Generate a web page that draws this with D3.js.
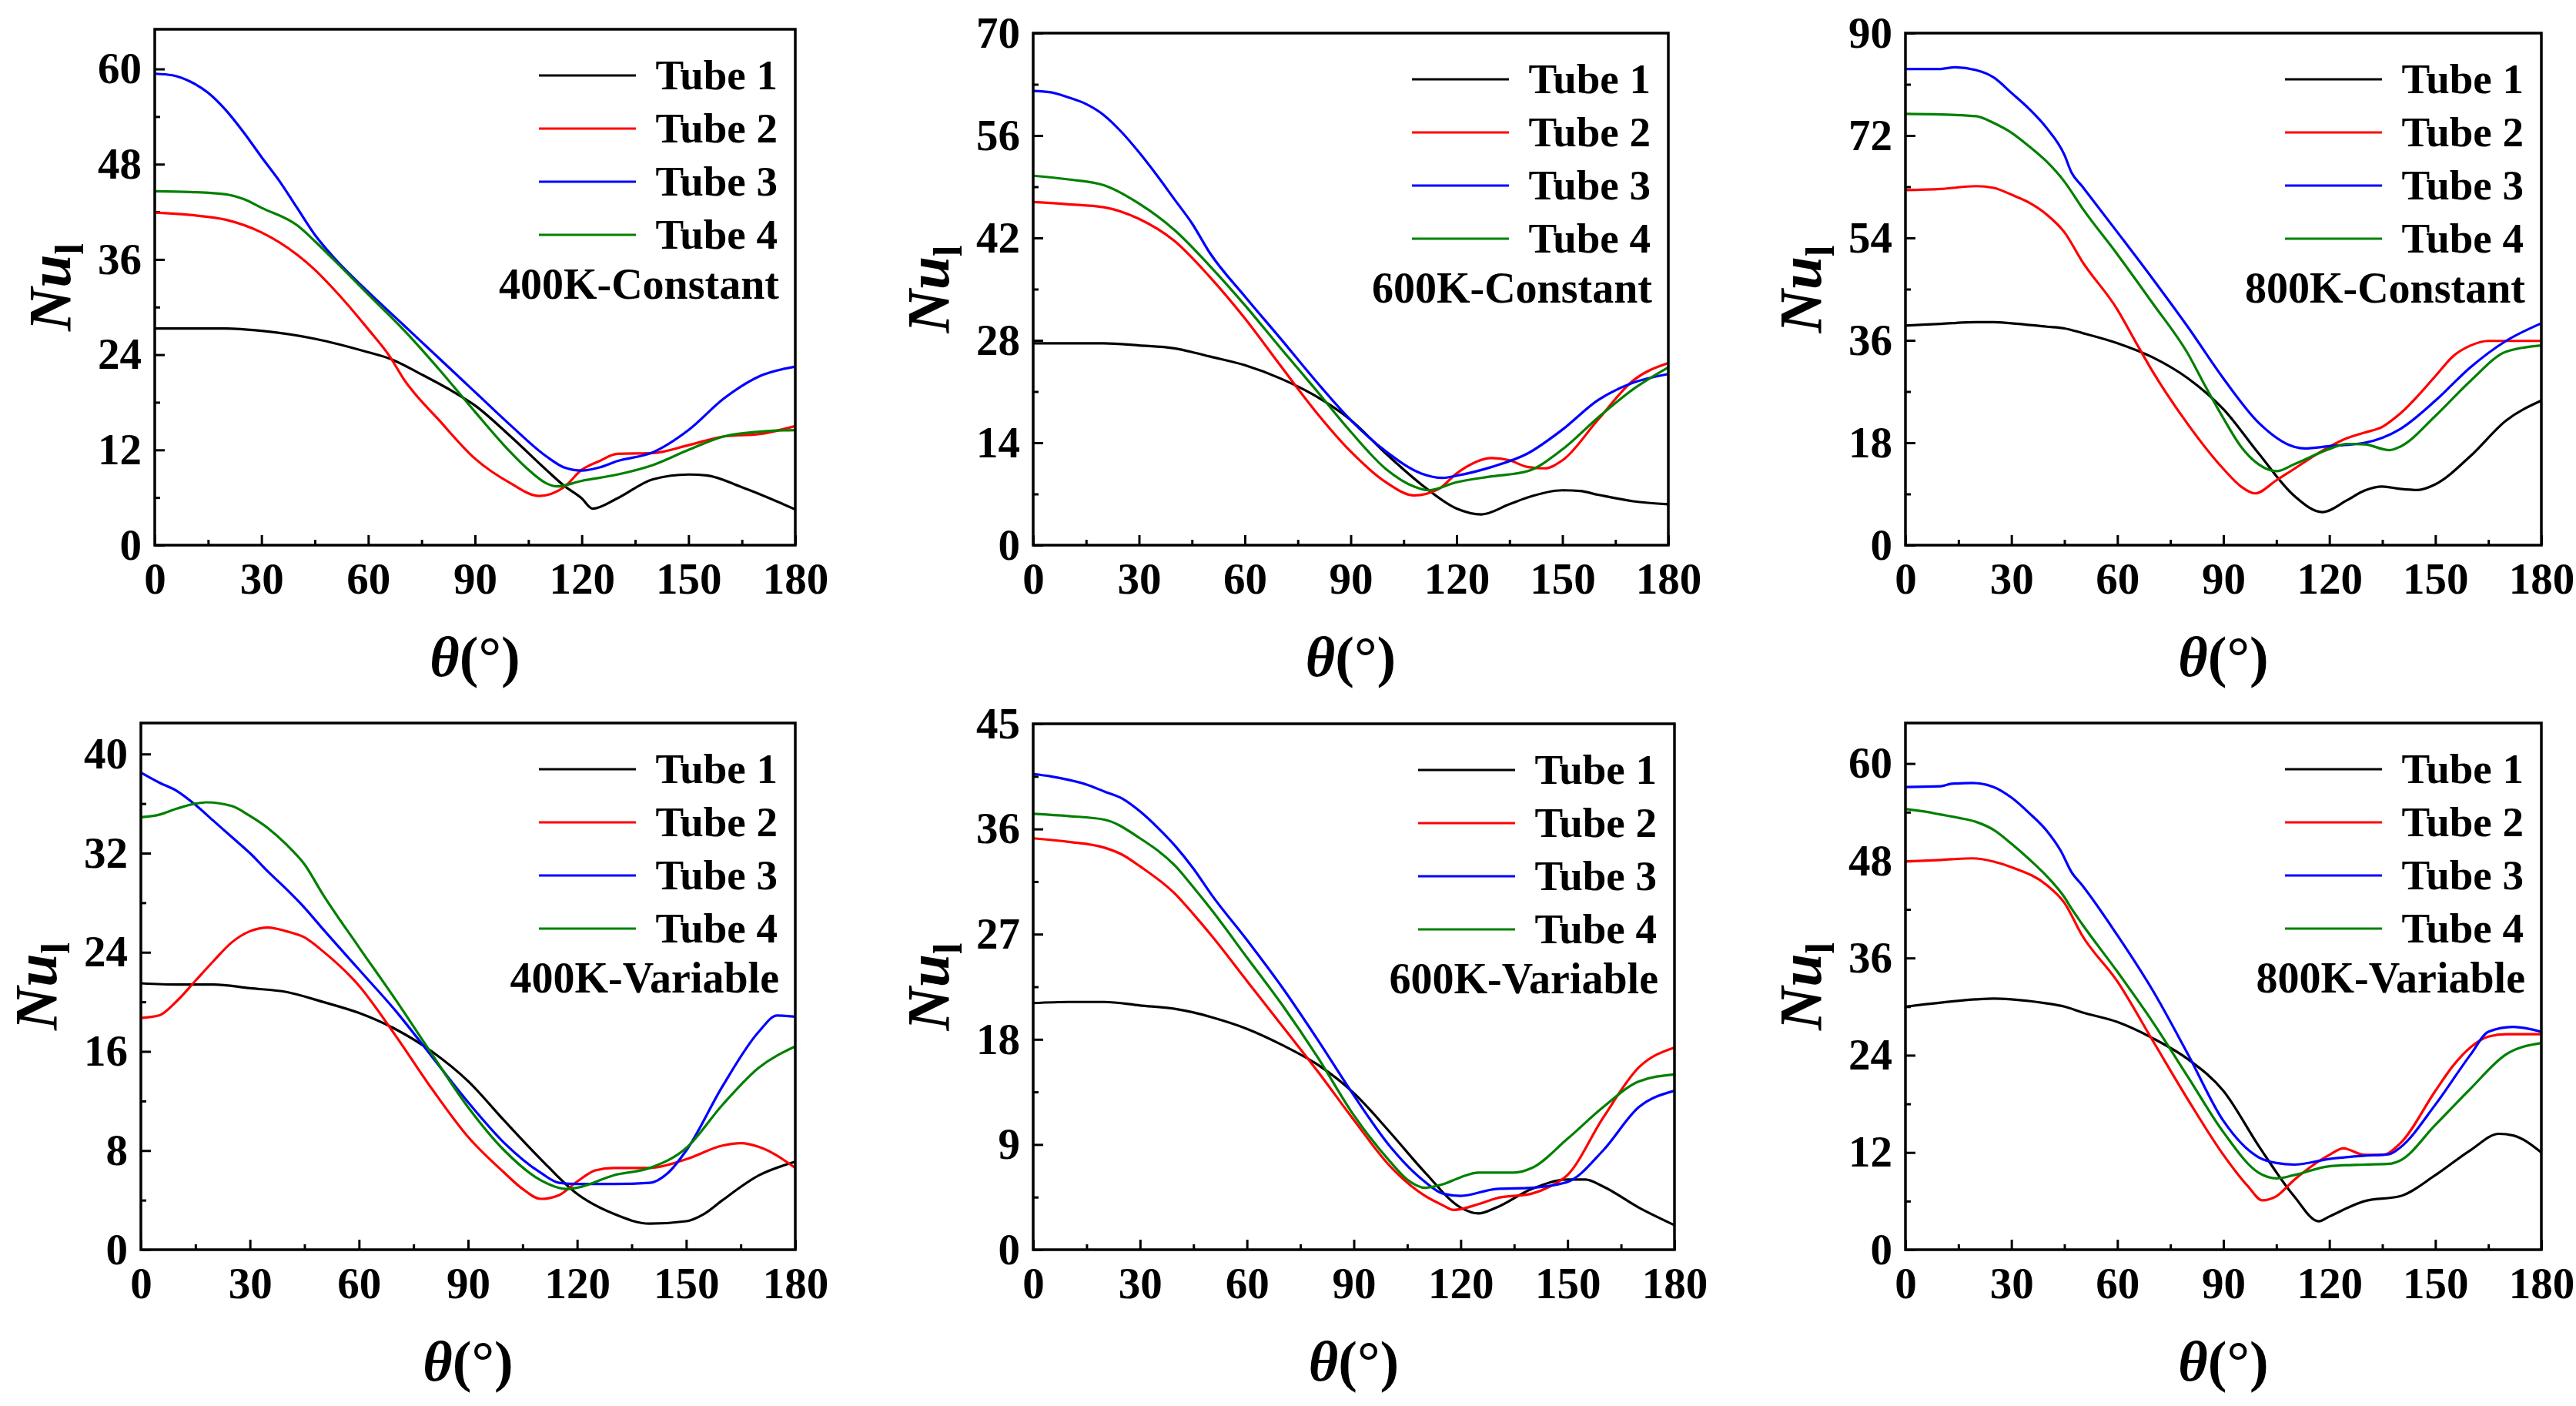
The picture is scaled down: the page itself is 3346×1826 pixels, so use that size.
<!DOCTYPE html>
<html>
<head>
<meta charset="utf-8">
<script src="https://cdn.jsdelivr.net/npm/d3@7"></script>
<style>
    body { margin: 0; background: #fff; }
    svg { display: block; }
    svg text { font-family: "Liberation Serif", "Times New Roman", serif; font-weight: bold; fill: #000; }
</style>
</head>
<body>
<div id="chart"></div>
<script>
// ---- data: [theta (deg), Nu_l] ----
const c400_tube1 = [[0,27.3],[10,27.3],[20,27.3],[30,27.0],[45,26.0],[60,24.3],[66,23.5],[75,21.5],[84,19.3],[90,17.6],[100,13.7],[110,9.5],[115,7.5],[120,5.9],[123,4.6],[130,5.9],[140,8.3],[150,8.9],[155,8.8],[165,7.3],[180,4.5]];
const c400_tube2 = [[0,41.9],[10,41.6],[20,41.0],[30,39.4],[40,36.6],[45,34.7],[50,32.4],[60,27.2],[66,23.8],[70,20.9],[80,15.7],[90,10.9],[100,7.8],[108,6.2],[115,7.3],[120,9.5],[125,10.6],[130,11.5],[140,11.6],[150,12.6],[160,13.7],[170,14.0],[180,15.0]];
const c400_tube3 = [[0,59.4],[5,59.2],[10,58.4],[15,57.0],[20,54.8],[25,52.0],[30,48.9],[35,45.9],[40,42.5],[45,39.1],[50,36.4],[60,31.9],[70,27.7],[80,23.5],[90,19.3],[100,15.1],[110,11.2],[115,9.8],[120,9.4],[125,9.8],[130,10.6],[140,11.7],[150,14.5],[160,18.5],[170,21.3],[180,22.5]];
const c400_tube4 = [[0,44.6],[10,44.5],[20,44.2],[25,43.6],[30,42.5],[40,40.3],[45,38.3],[50,36.1],[60,31.6],[70,27.1],[80,22.1],[90,16.8],[100,11.7],[105,9.5],[110,7.8],[113,7.4],[120,8.1],[130,8.9],[140,10.1],[150,12.0],[160,13.7],[170,14.3],[180,14.5]];

const c600_tube1 = [[0,27.6],[20,27.6],[30,27.3],[40,26.9],[45,26.4],[50,25.8],[60,24.6],[70,22.8],[80,20.4],[90,17.1],[100,12.5],[110,8.3],[120,5.0],[127,4.2],[135,5.6],[140,6.5],[150,7.5],[155,7.4],[160,6.9],[170,6.0],[180,5.6]];
const c600_tube2 = [[0,46.9],[10,46.6],[20,46.2],[30,44.6],[40,41.6],[50,36.7],[60,31.0],[70,24.6],[80,18.3],[90,12.8],[100,8.6],[108,6.8],[115,7.7],[120,9.8],[130,11.9],[135,11.6],[140,10.7],[145,10.5],[150,11.6],[160,17.1],[170,22.5],[180,24.9]];
const c600_tube3 = [[0,62.1],[5,61.9],[10,61.2],[15,60.3],[20,58.8],[25,56.5],[30,53.7],[35,50.6],[40,47.3],[45,44.0],[50,40.0],[60,34.0],[70,28.3],[80,22.5],[90,17.1],[100,12.8],[110,9.8],[116,9.2],[120,9.5],[130,10.7],[140,12.5],[150,15.8],[160,19.8],[170,22.2],[180,23.4]];
const c600_tube4 = [[0,50.5],[10,50.0],[20,49.2],[30,46.7],[40,43.1],[50,38.2],[60,32.8],[70,27.0],[80,21.3],[90,15.5],[100,10.4],[108,8.0],[112,7.5],[120,8.6],[130,9.4],[140,10.1],[150,13.1],[160,17.4],[170,21.3],[180,24.3]];

const c800_tube1 = [[0,38.6],[10,38.9],[20,39.2],[25,39.2],[30,39.0],[40,38.4],[45,38.1],[50,37.3],[60,35.5],[70,33.0],[80,29.3],[90,23.9],[100,16.1],[110,8.7],[118,5.8],[125,7.9],[130,9.6],[135,10.3],[140,9.9],[145,9.7],[150,10.7],[160,15.7],[170,21.9],[180,25.4]];
const c800_tube2 = [[0,62.4],[10,62.6],[20,63.1],[25,62.8],[30,61.6],[35,60.2],[40,58.1],[45,55.0],[50,49.9],[60,41.4],[65,35.9],[70,30.5],[80,21.2],[90,13.4],[95,10.3],[99,9.1],[105,11.4],[110,13.4],[120,17.3],[125,18.8],[130,19.8],[135,20.8],[140,23.1],[150,29.7],[155,33.2],[160,35.1],[165,35.9],[170,35.9],[180,35.9]];
const c800_tube3 = [[0,83.7],[10,83.7],[14,84.0],[20,83.5],[25,82.2],[30,79.5],[35,76.7],[40,73.3],[45,68.6],[47,65.5],[50,63.1],[60,55.0],[70,46.8],[80,38.3],[90,29.3],[100,21.5],[110,17.3],[113,17.0],[120,17.4],[130,18.0],[140,20.4],[150,25.4],[160,31.3],[170,35.9],[180,39.0]];
const c800_tube4 = [[0,75.8],[10,75.7],[20,75.4],[25,74.2],[30,72.5],[35,70.1],[40,67.4],[45,63.9],[50,59.3],[60,51.1],[70,42.5],[80,33.6],[85,27.8],[90,22.3],[95,17.3],[100,14.2],[105,13.0],[110,14.2],[120,16.9],[125,17.8],[130,17.7],[137,16.7],[140,17.3],[150,22.7],[160,28.9],[170,34.0],[180,35.1]];

const v400_tube1 = [[0,21.5],[10,21.4],[20,21.4],[30,21.1],[40,20.8],[50,20.0],[60,19.1],[70,17.8],[80,16.0],[90,13.6],[100,10.4],[110,7.3],[120,4.5],[130,2.9],[140,2.1],[150,2.3],[155,2.9],[160,4.0],[170,6.0],[180,7.1]];
const v400_tube2 = [[0,18.7],[5,18.9],[10,20.1],[15,21.7],[20,23.3],[25,24.8],[30,25.7],[35,26.0],[40,25.7],[45,25.2],[50,24.1],[60,21.3],[70,17.3],[80,13.0],[90,9.1],[100,6.2],[105,4.9],[110,4.1],[115,4.4],[120,5.5],[125,6.4],[130,6.6],[140,6.6],[150,7.3],[160,8.4],[165,8.6],[170,8.3],[180,6.6]];
const v400_tube3 = [[0,38.5],[5,37.7],[10,37.0],[15,35.9],[20,34.6],[25,33.3],[30,32.0],[35,30.5],[40,29.1],[45,27.6],[50,25.9],[60,22.6],[70,19.3],[80,15.6],[90,11.9],[100,8.6],[110,6.2],[115,5.4],[120,5.3],[130,5.3],[140,5.4],[145,6.2],[150,8.0],[160,13.2],[170,17.6],[175,18.9],[180,18.8]];
const v400_tube4 = [[0,34.9],[5,35.1],[10,35.6],[15,36.0],[18,36.1],[25,35.8],[30,35.0],[35,34.0],[40,32.7],[45,31.1],[50,28.7],[60,24.4],[70,20.2],[80,15.8],[90,11.5],[100,8.0],[110,5.6],[117,4.9],[120,5.0],[130,6.0],[140,6.6],[150,8.2],[160,11.7],[170,14.7],[180,16.4]];

const v600_tube1 = [[0,21.1],[10,21.2],[20,21.2],[30,20.9],[40,20.6],[45,20.3],[50,19.9],[60,18.9],[70,17.5],[80,15.8],[90,13.4],[100,10.1],[110,6.6],[120,3.6],[125,3.1],[130,3.6],[140,5.2],[150,6.0],[155,6.0],[160,5.4],[170,3.6],[180,2.1]];
const v600_tube2 = [[0,35.2],[10,34.9],[20,34.4],[25,33.8],[30,32.8],[40,30.4],[45,28.7],[50,26.9],[60,23.0],[70,19.1],[80,15.2],[90,11.1],[100,7.2],[110,4.6],[115,3.8],[118,3.4],[125,3.9],[130,4.4],[140,4.8],[145,5.4],[150,6.4],[160,11.3],[170,15.6],[180,17.3]];
const v600_tube3 = [[0,40.7],[5,40.5],[10,40.2],[15,39.8],[20,39.2],[25,38.6],[30,37.5],[35,36.1],[40,34.5],[45,32.6],[50,30.4],[60,26.5],[70,22.4],[80,17.9],[90,13.2],[100,8.9],[110,5.8],[115,4.8],[120,4.6],[130,5.2],[140,5.3],[150,5.8],[160,8.5],[170,12.2],[180,13.6]];
const v600_tube4 = [[0,37.3],[10,37.1],[20,36.8],[30,35.2],[40,32.8],[45,31.0],[50,29.1],[60,25.0],[70,20.9],[80,16.4],[90,11.5],[100,7.6],[105,6.0],[110,5.3],[115,5.6],[120,6.2],[125,6.6],[135,6.6],[140,7.0],[150,9.5],[160,12.2],[170,14.4],[180,15.0]];

const v800_tube1 = [[0,30.0],[10,30.5],[20,30.9],[25,31.0],[30,30.9],[40,30.4],[45,30.0],[50,29.3],[60,28.1],[70,26.1],[80,23.5],[90,19.6],[100,12.8],[110,6.6],[117,3.5],[120,4.1],[130,6.0],[140,6.6],[150,9.2],[160,12.3],[168,14.3],[172,14.1],[180,12.0]];
const v800_tube2 = [[0,47.9],[10,48.1],[19,48.3],[25,47.9],[30,47.2],[40,45.0],[45,42.8],[50,38.8],[60,33.1],[70,25.8],[80,18.5],[90,11.7],[97,7.8],[101,6.1],[105,6.6],[110,8.6],[120,11.7],[124,12.5],[130,11.7],[135,11.7],[140,13.1],[150,19.6],[155,22.7],[160,25.0],[165,26.3],[170,26.6],[180,26.6]];
const v800_tube3 = [[0,57.1],[10,57.2],[13,57.5],[19,57.6],[25,57.1],[30,55.8],[35,53.9],[40,51.7],[44,49.2],[47,46.6],[50,45.0],[60,38.8],[70,32.0],[80,24.1],[90,15.9],[100,11.4],[105,10.7],[110,10.5],[120,11.2],[130,11.6],[137,11.8],[140,12.6],[150,17.9],[160,24.1],[165,26.9],[172,27.5],[180,26.9]];
const v800_tube4 = [[0,54.4],[5,54.1],[10,53.7],[15,53.3],[20,52.8],[25,51.8],[30,50.1],[35,48.2],[40,46.1],[45,43.5],[47,42.1],[50,40.2],[60,34.3],[70,28.1],[80,21.3],[90,14.5],[100,9.5],[105,8.8],[110,9.2],[120,10.3],[130,10.5],[137,10.6],[140,11.0],[150,15.4],[160,19.9],[170,24.1],[180,25.5]];

const tubeNames = ["Tube 1", "Tube 2", "Tube 3", "Tube 4"];
const caseLabels = ["400K-Constant", "600K-Constant", "800K-Constant", "400K-Variable", "600K-Variable", "800K-Variable"];
const yMax = [65, 70, 90, 42.5, 45, 65];
const yStep = [12, 14, 18, 8, 9, 12];
const xTicks = [0, 30, 60, 90, 120, 150, 180];
const seriesByCase = [
    [c400_tube1, c400_tube2, c400_tube3, c400_tube4],
    [c600_tube1, c600_tube2, c600_tube3, c600_tube4],
    [c800_tube1, c800_tube2, c800_tube3, c800_tube4],
    [v400_tube1, v400_tube2, v400_tube3, v400_tube4],
    [v600_tube1, v600_tube2, v600_tube3, v600_tube4],
    [v800_tube1, v800_tube2, v800_tube3, v800_tube4]
];

// ---- layout & style ----
const width = 3346, height = 1826;
const serif = "'Liberation Serif', 'Times New Roman', serif";
const colors = ["#000000", "#ff0000", "#0000ff", "#008000"];
// plot frames (left, right, top, bottom) in page pixels
const frames = [
    [201, 1033, 38, 708],
    [1342, 2167, 43, 708],
    [2475, 3301, 43, 708],
    [183, 1033, 939, 1623],
    [1342, 2175, 940, 1623],
    [2475, 3301, 939, 1623]
];

const svg = d3.select("#chart")
    .append("svg")
        .attr("width", width)
        .attr("height", height)
        .style("font-family", serif);

svg.append("rect")
    .attr("width", width)
    .attr("height", height)
    .attr("fill", "#fff");

const drawPanel = (i) => {
    const [left, right, top, bottom] = frames[i];
    const w = right - left, h = bottom - top;

    const xScale = d3.scaleLinear().domain([0, 180]).range([0, w]);
    const yScale = d3.scaleLinear().domain([0, yMax[i]]).range([h, 0]);

    const g = svg.append("g")
        .attr("transform", `translate(${left}, ${top})`);

    // minor ticks
    const xMinor = d3.range(15, 180, 30);
    const yMinor = d3.range(yStep[i] / 2, yMax[i], yStep[i]);

    g.append("g")
        .attr("transform", `translate(0, ${h})`)
        .call(d3.axisBottom(xScale).tickValues(xMinor).tickSize(-7).tickFormat(""))
        .call(a => a.select(".domain").remove());

    g.append("g")
        .call(d3.axisLeft(yScale).tickValues(yMinor).tickSize(-7).tickFormat(""))
        .call(a => a.select(".domain").remove());

    // major ticks + labels
    const xAxis = g.append("g")
        .attr("transform", `translate(0, ${h})`)
        .call(d3.axisBottom(xScale).tickValues(xTicks).tickSize(-13).tickPadding(23));
    xAxis.select(".domain").remove();

    const yTicks = d3.range(0, yMax[i] + 0.01, yStep[i]);
    const yAxis = g.append("g")
        .call(d3.axisLeft(yScale).tickValues(yTicks).tickSize(-13).tickPadding(17));
    yAxis.select(".domain").remove();

    g.selectAll("g").attr("font-family", serif);

    g.selectAll(".tick line")
        .attr("stroke", "#000")
        .attr("stroke-width", 3);

    g.selectAll(".tick text")
        .attr("font-size", 57)
        .attr("font-weight", "bold");

    // curves
    const line = d3.line()
        .x(d => xScale(d[0]))
        .y(d => yScale(d[1]))
        .curve(d3.curveMonotoneX);

    g.selectAll("path.curve")
        .data(seriesByCase[i])
        .join("path")
            .attr("class", "curve")
            .attr("d", line)
            .attr("fill", "none")
            .attr("stroke", (d, k) => colors[k])
            .attr("stroke-width", 3.2)
            .attr("stroke-linejoin", "round");

    // frame
    g.append("rect")
        .attr("width", w)
        .attr("height", h)
        .attr("fill", "none")
        .attr("stroke", "#000")
        .attr("stroke-width", 3.5);

    // legend
    const legend = g.selectAll("g.legend")
        .data(tubeNames)
        .join("g")
            .attr("class", "legend")
            .attr("transform", (d, k) => `translate(${w - 23}, ${78 + k * 69})`);

    legend.append("line")
        .attr("x1", -310)
        .attr("x2", -184)
        .attr("y1", -18)
        .attr("y2", -18)
        .attr("stroke", (d, k) => colors[k])
        .attr("stroke-width", 3.2);

    legend.append("text")
        .attr("text-anchor", "end")
        .attr("font-size", 55)
        .text(d => d);

    g.append("text")
        .attr("x", w - 21)
        .attr("y", 350)
        .attr("text-anchor", "end")
        .attr("font-size", 56)
        .text(caseLabels[i]);

    // axis titles
    const xTitle = g.append("text")
        .attr("x", w / 2)
        .attr("y", h + 170)
        .attr("text-anchor", "middle")
        .attr("font-size", 74);
    xTitle.append("tspan").attr("font-style", "italic").text("θ");
    xTitle.append("tspan").text("(°)");

    const yTitle = g.append("text")
        .attr("transform", `translate(-110, ${h / 2}) rotate(-90)`)
        .attr("text-anchor", "middle")
        .attr("font-size", 78);
    yTitle.append("tspan").attr("font-style", "italic").text("Nu");
    yTitle.append("tspan").attr("font-size", 52).attr("dy", 17).text("l");
};

frames.forEach((f, i) => drawPanel(i));
</script>
</body>
</html>
